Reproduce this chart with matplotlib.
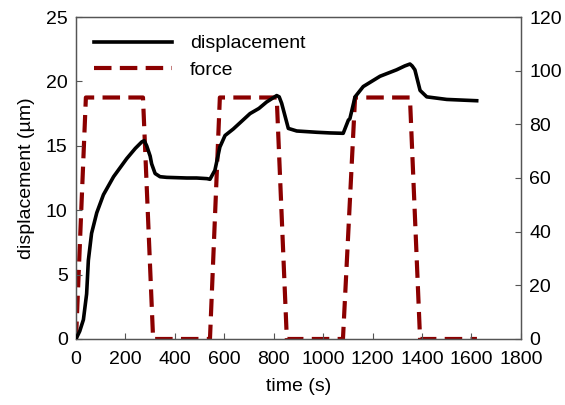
import matplotlib
matplotlib.use("Agg")
import matplotlib.pyplot as plt

plt.rcParams['font.family'] = ['Liberation Sans', 'DejaVu Sans']

# displacement (µm) vs time (s)
disp_t = [0, 15, 30, 43, 50, 63, 84, 111, 152, 205, 240, 266, 276, 286, 300, 306, 320,
          340, 367, 448, 488, 530, 542, 562, 582, 603, 636, 704, 740, 771, 812, 822, 832,
          859, 893, 974, 1027, 1081, 1102, 1108, 1129, 1162, 1230, 1297, 1330, 1351, 1360,
          1371, 1392, 1419, 1500, 1560, 1621]
disp_v = [0, 0.6, 1.5, 3.5, 6.1, 8.2, 9.8, 11.2, 12.6, 14.0, 14.8, 15.3, 15.4, 15.0, 14.2,
          13.6, 12.85, 12.6, 12.55, 12.5, 12.5, 12.45, 12.4, 13.1, 14.9, 15.8, 16.3, 17.5,
          17.9, 18.4, 18.9, 18.8, 18.3, 16.35, 16.15, 16.05, 16.0, 15.97, 17.0, 17.1, 18.8,
          19.6, 20.4, 20.9, 21.2, 21.35, 21.2, 20.9, 19.3, 18.8, 18.6, 18.55, 18.5]

# force vs time (s)
force_t = [0, 40, 271, 312, 542, 582, 812, 853, 1080, 1129, 1351, 1392, 1622]
force_v = [0, 90, 90, 0, 0, 90, 90, 0, 0, 90, 90, 0, 0]

fs = 14

fig = plt.figure(figsize=(5.65, 4.05), dpi=100)
ax = fig.add_axes([0.1345, 0.163, 0.7875, 0.795])
ax2 = ax.twinx()

l1, = ax.plot(disp_t, disp_v, color='black', lw=2.6, label='displacement', zorder=3)
l2, = ax2.plot(force_t, force_v, color='#8b0000', lw=3.0, dashes=(4.2, 2.0), label='force')

ax.set_zorder(ax2.get_zorder() + 1)
ax.patch.set_visible(False)

ax.set_xlim(0, 1800)
ax.set_ylim(0, 25)
ax2.set_ylim(0, 120)
ax.set_xticks(range(0, 1801, 200))
ax.set_yticks(range(0, 26, 5))
ax2.set_yticks(range(0, 121, 20))

for a in (ax, ax2):
    a.tick_params(direction='in', length=4, width=0.8, color='#555555', labelsize=fs, pad=6)
    for s in a.spines.values():
        s.set_color('#555555')
        s.set_linewidth(0.9)
ax.tick_params(axis='x', pad=9)

ax.set_xlabel('time (s)', fontsize=fs, labelpad=7)
ax.set_ylabel('displacement (µm)', fontsize=fs, labelpad=8)

ax.legend([l1, l2], ['displacement', 'force'], loc='upper left', frameon=False,
          fontsize=fs, handlelength=4.0, handletextpad=0.95, borderaxespad=0.0,
          borderpad=0.0, bbox_to_anchor=(0.04, 0.945), labelspacing=0.45)

fig.savefig('out.png', dpi=100)
